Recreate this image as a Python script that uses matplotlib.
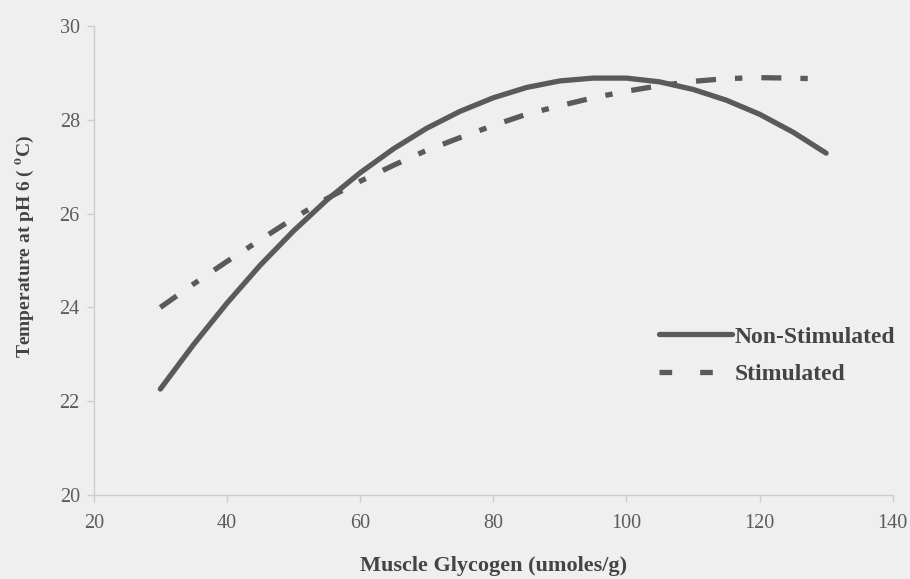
import matplotlib
matplotlib.use("Agg")
import matplotlib.pyplot as plt
from matplotlib.lines import Line2D

glycogen = [30, 35, 40, 45, 50, 55, 60, 65, 70, 75, 80, 85, 90, 95, 100,
            105, 110, 115, 120, 125, 130]
non_stimulated = [22.26, 23.21, 24.09, 24.90, 25.63, 26.29, 26.87, 27.38, 27.82, 28.18,
                  28.47, 28.69, 28.83, 28.89, 28.89, 28.81, 28.65, 28.42, 28.12, 27.74, 27.29]
stimulated = [24.0, 24.5, 24.98, 25.44, 25.9, 26.32, 26.69, 27.03, 27.35, 27.62,
              27.88, 28.12, 28.3, 28.47, 28.61, 28.73, 28.82, 28.88, 28.9, 28.89, 28.87]
xticks = [20, 40, 60, 80, 100, 120, 140]
yticks = [20, 22, 24, 26, 28, 30]
series_labels = ['Non-Stimulated', 'Stimulated']

plt.rcParams['font.family'] = ['Liberation Serif', 'DejaVu Serif']
plt.rcParams['mathtext.fontset'] = 'stix'

bg = '#efefef'
line_c = '#5a5a5a'
lw = 3.8
fig = plt.figure(figsize=(9.1, 5.79), dpi=100, facecolor=bg)
ax = fig.add_axes([0.103, 0.145, 0.878, 0.81], facecolor=bg)

ax.plot(glycogen, non_stimulated, color=line_c, lw=lw, solid_capstyle='round',
        solid_joinstyle='round')
ax.plot(glycogen, stimulated, color=line_c, lw=lw, dash_capstyle='butt',
        linestyle=(0, (3.8, 3.6, 1.4, 3.6)))

ax.set_xlim(20, 140)
ax.set_ylim(20, 30)
ax.set_xticks(xticks)
ax.set_yticks(yticks)
for s in ['top', 'right']:
    ax.spines[s].set_visible(False)
for s in ['left', 'bottom']:
    ax.spines[s].set_color('#cdcdcd')
    ax.spines[s].set_linewidth(1.0)
ax.tick_params(colors='#cdcdcd', labelcolor='#5c5c5c', labelsize=14.5, length=5, width=1)
ax.tick_params(axis='x', pad=9)
ax.tick_params(axis='y', pad=5)

ax.set_xlabel('Muscle Glycogen (umoles/g)', fontsize=16, fontweight='bold',
              color='#444444', labelpad=16)
ax.set_ylabel('Temperature at pH 6 ( $^{\\mathbf{o}}$C)', fontsize=14, fontweight='bold',
              color='#444444', labelpad=17, y=0.53)

handles = [
    Line2D([], [], color=line_c, lw=lw, solid_capstyle='round'),
    Line2D([], [], color=line_c, lw=lw, dash_capstyle='butt', linestyle=(0, (2.4, 5.3))),
]
leg = ax.legend(handles, series_labels, loc='upper left', bbox_to_anchor=(0.707, 0.36),
                frameon=False, borderpad=0, borderaxespad=0,
                handlelength=3.1, handletextpad=0.12, labelspacing=0.66,
                prop={'family': 'Liberation Serif', 'weight': 'bold', 'size': 17})
for t in leg.get_texts():
    t.set_color('#444444')

fig.savefig('out.png', dpi=100, facecolor=bg)
